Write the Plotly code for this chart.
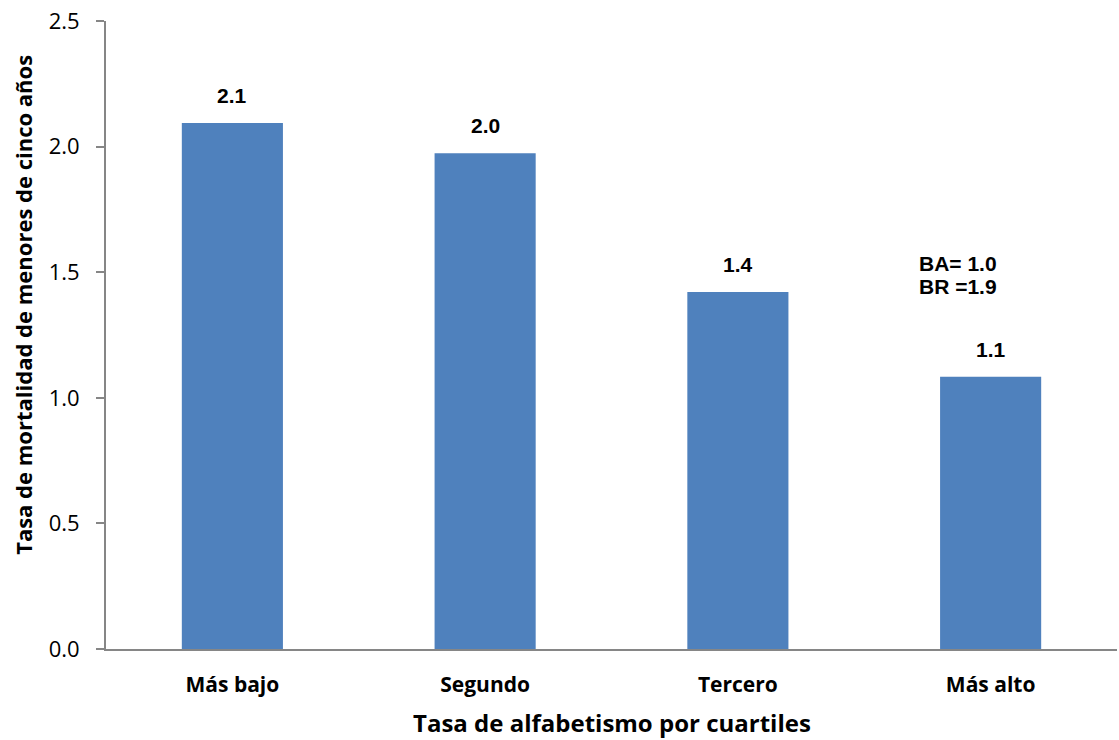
import plotly.graph_objects as go

# Under-five mortality by literacy-rate quartile
categories = ["Más bajo", "Segundo", "Tercero", "Más alto"]
values = [2.094, 1.974, 1.421, 1.084]
y_ticks = [0.0, 0.5, 1.0, 1.5, 2.0, 2.5]
note_lines = ["BA= 1.0", "BR =1.9"]

label_font = dict(family="Liberation Sans, Arial", size=21, color="black")

fig = go.Figure(
    go.Bar(
        x=categories,
        y=values,
        width=0.4,
        marker=dict(color="#4f81bd", line=dict(width=0)),
        hoverinfo="x+y",
    )
)

# value labels floating above each bar
for cat, val in zip(categories, values):
    fig.add_annotation(
        x=cat, y=val, xref="x", yref="y",
        text=f"<b>{val:.1f}</b>",
        showarrow=False, xanchor="center", yanchor="bottom",
        yshift=14, font=label_font,
    )

# side note, one annotation per line
for i, line in enumerate(note_lines):
    fig.add_annotation(
        xref="paper", yref="y",
        x=0.802, y=1.481 - i * 0.0915,
        xanchor="left", yanchor="bottom",
        text=f"<b>{line}</b>",
        showarrow=False, align="left",
        font=label_font,
    )

# axis titles
fig.add_annotation(
    xref="paper", yref="paper", x=0.5, y=0,
    xanchor="center", yanchor="middle", yshift=-73,
    text="<b>Tasa de alfabetismo por cuartiles</b>",
    showarrow=False,
    font=dict(family="Open Sans", size=24, color="black"),
)
fig.add_annotation(
    xref="paper", yref="paper", x=0, y=0.548,
    xanchor="center", yanchor="middle", xshift=-83,
    textangle=-90,
    text="<b>Tasa de mortalidad de menores de cinco años</b>",
    showarrow=False,
    font=dict(family="Open Sans", size=22, color="black"),
)

fig.update_layout(
    width=1119, height=740,
    margin=dict(l=106, r=2, t=21, b=91),
    paper_bgcolor="white", plot_bgcolor="white",
    showlegend=False,
    bargap=0.6,
    font=dict(family="Open Sans, Noto Sans, sans-serif", color="black"),
)

fig.update_xaxes(
    showline=True, linecolor="#868686", linewidth=2,
    ticks="", showgrid=False,
    ticklabelstandoff=16,
    tickfont=dict(size=21, family="Open Sans", color="black", weight="bold"),
)

fig.update_yaxes(
    range=[0, 2.5],
    tickvals=y_ticks,
    tickformat=".1f",
    showline=True, linecolor="#868686", linewidth=2,
    ticks="outside", ticklen=8, tickcolor="#868686", tickwidth=2,
    ticklabelstandoff=12,
    showgrid=False, zeroline=False,
    tickfont=dict(size=22, family="Open Sans", color="black"),
)

fig.write_html("out.html")
